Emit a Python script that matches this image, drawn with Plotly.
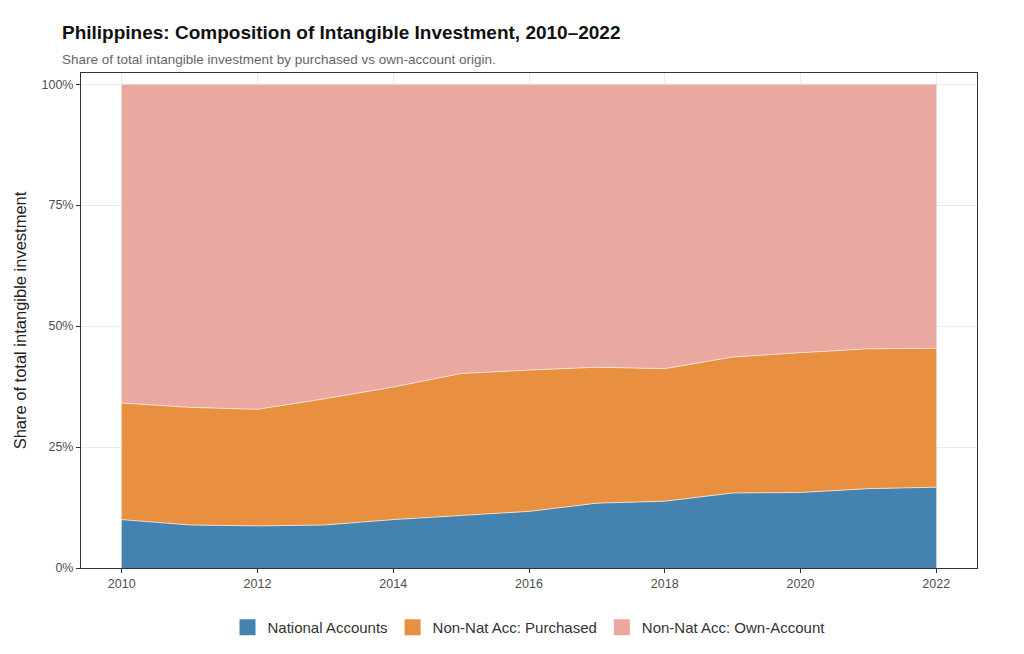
import plotly.graph_objects as go

years = list(range(2010, 2023))
national_accounts = [10.0, 8.9, 8.7, 8.9, 10.0, 10.8, 11.7, 13.4, 13.8, 15.5, 15.6, 16.4, 16.7]
purchased = [24.1, 24.3, 24.1, 26.1, 27.4, 29.4, 29.2, 28.1, 27.4, 28.1, 28.9, 28.9, 28.7]
own_account = [65.9, 66.8, 67.2, 65.0, 62.6, 59.8, 59.1, 58.5, 58.8, 56.4, 55.5, 54.7, 54.6]
y_ticks = [0, 25, 50, 75, 100]

series = [
    ("National Accounts", national_accounts, "rgb(68,131,176)"),
    ("Non-Nat Acc: Purchased", purchased, "rgb(233,144,64)"),
    ("Non-Nat Acc: Own-Account", own_account, "rgb(233,168,160)"),
]

fig = go.Figure()
for name, vals, col in series:
    fig.add_trace(go.Scatter(
        x=years, y=vals, name=name, stackgroup="one", groupnorm="percent",
        mode="lines", line=dict(color="rgba(255,240,225,0.9)", width=0.8),
        fillcolor=col, showlegend=False, hoverinfo="x+y+name",
    ))
    # square swatch for the legend
    fig.add_trace(go.Scatter(
        x=[None], y=[None], name=name, mode="markers",
        marker=dict(symbol="square", size=20, color=col), showlegend=True,
    ))

fig.update_layout(
    width=1024, height=654,
    margin=dict(l=71, r=55, t=65, b=94),
    paper_bgcolor="white", plot_bgcolor="white",
    font=dict(family="Liberation Sans, Arial, sans-serif", color="#333333"),
    title=dict(
        text="<b>Philippines: Composition of Intangible Investment, 2010\u20132022</b>"
             "<br><span style='font-size:13.5px;color:#666666'>Share of total intangible investment by purchased vs own-account origin.</span>",
        x=54 / 1024, xanchor="left", y=0.952, yanchor="top",
        font=dict(size=19, color="#111111"),
    ),
    legend=dict(
        orientation="h", x=0.5, xanchor="center", y=-0.12, yanchor="middle",
        font=dict(size=15, color="#333333"), itemsizing="trace",
        traceorder="normal",
    ),
)

fig.update_xaxes(
    range=[2009.4, 2022.6], tickmode="array", tickvals=list(range(2010, 2023, 2)),
    ticks="outside", ticklen=4, tickcolor="#333333",
    tickfont=dict(size=12.5, color="#4d4d4d"),
    showgrid=True, gridcolor="#ebebeb", gridwidth=1,
    showline=True, linecolor="#333333", linewidth=1, mirror=True, zeroline=False,
)
fig.update_yaxes(
    range=[0, 102.3], tickmode="array", tickvals=y_ticks,
    ticktext=[f"{v}%" for v in y_ticks],
    ticks="outside", ticklen=4, tickcolor="#333333",
    tickfont=dict(size=12.5, color="#4d4d4d"),
    showgrid=True, gridcolor="#ebebeb", gridwidth=1,
    showline=True, linecolor="#333333", linewidth=1, mirror=True, zeroline=False,
    title=dict(text="Share of total intangible investment", font=dict(size=16.5, color="#222222"), standoff=10),
)

fig.write_html("out.html")
